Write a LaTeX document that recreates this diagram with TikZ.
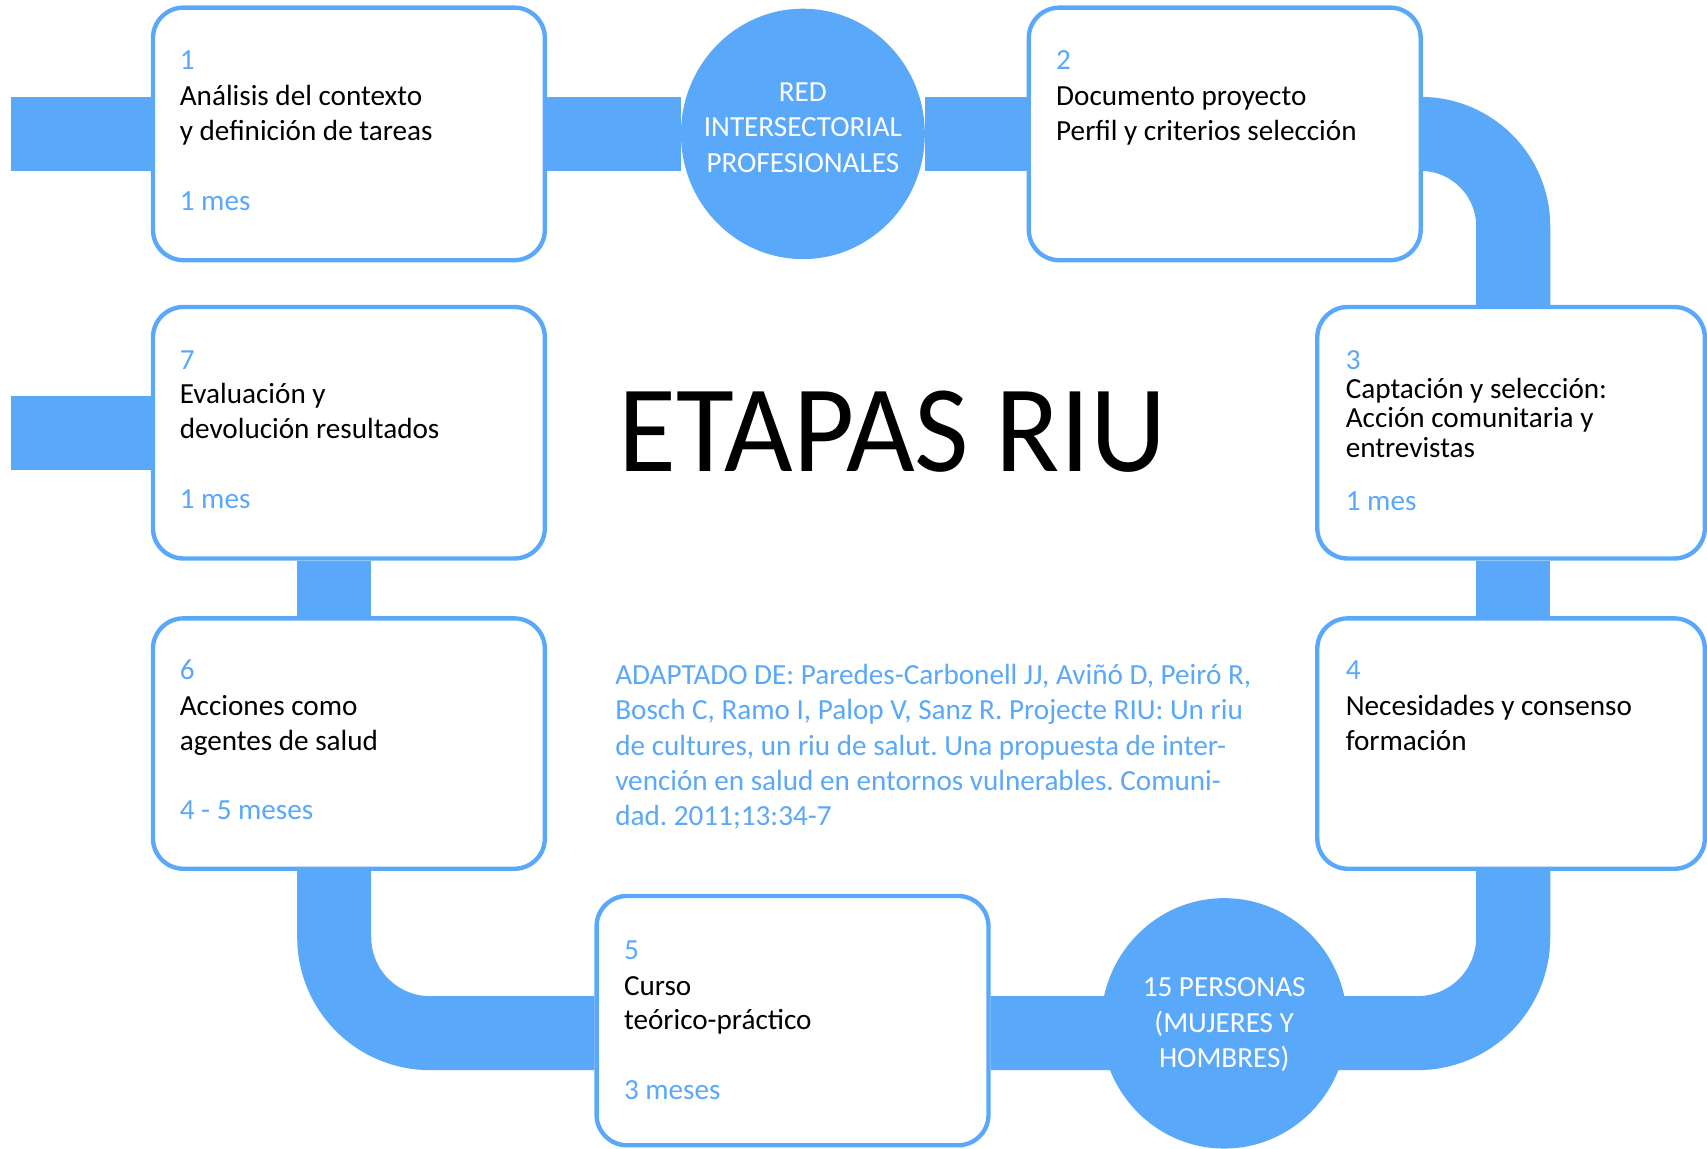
\documentclass[tikz,border=0pt]{standalone}
\usepackage{fontspec}
\setmainfont{Carlito}
\usetikzlibrary{shapes.geometric,backgrounds}
\definecolor{riublue}{RGB}{90,168,250}
\frenchspacing
\begin{document}
\begin{tikzpicture}[x=1pt,y=-1pt,
  band/.style={line width=68pt, draw=riublue},
  stagebox/.style={draw=riublue, line width=4pt, fill=white, rounded corners=28pt,
    minimum width=360pt, minimum height=232pt, inner sep=0pt},
  hub/.style={ellipse, fill=riublue, inner sep=0pt},
  body/.style={anchor=base west, inner sep=0pt, font=\fontsize{26.8pt}{32pt}\selectfont, text=black},
  accent/.style={body, text=riublue},
  hubtext/.style={anchor=base, inner sep=0pt, font=\fontsize{26.8pt}{32pt}\selectfont, text=white},
]
\useasboundingbox (0,0) rectangle (1568,1055);

% stage boxes
\node[stagebox] (b1) at (320.5,123) {};
\node[stagebox] (b2) at (1125,123) {};
\node[stagebox, minimum width=356pt, minimum height=231pt] (b3) at (1388,397.5) {};
\node[stagebox, minimum width=356pt, minimum height=230pt] (b4) at (1388,683) {};
\node[stagebox, minimum height=229pt] (b5) at (728,937.5) {};
\node[stagebox, minimum height=230pt] (b6) at (320.5,683) {};
\node[stagebox, minimum height=231pt] (b7) at (320.5,397.5) {};

% hubs
\node[hub, minimum width=224pt, minimum height=230pt] (c1) at (737.5,123) {};
\node[hub, minimum width=226pt, minimum height=230pt] (c2) at (1124.5,940) {};

% band coordinates
\coordinate (s1) at (10,123);
\coordinate (s7) at (10,397.5);
\coordinate (tr) at (1390,123);
\coordinate (brc) at (1390,949);
\coordinate (blc) at (307,949);

\begin{pgfonlayer}{background}
\fill[white] (0,0) rectangle (1568,1055);
\draw[band] (s1) -- (b1.west);
\draw[band] (b1.east) -- (c1) -- (b2.west);
\draw[band, rounded corners=85pt] (b2.east) -- (tr) -- (b3.north -| tr);
\draw[band] (b3.south -| tr) -- (b4.north -| tr);
\draw[band, rounded corners=88pt] (b4.south -| tr) -- (brc) -- (b5.east |- brc);
\draw[band, rounded corners=88pt] (b5.west |- blc) -- (blc) -- (b6.south -| blc);
\draw[band] (b6.north -| blc) -- (b7.south -| blc);
\draw[band] (s7) -- (b7.west);
\end{pgfonlayer}

% hub texts
\node[hubtext] (c1a) at (737.5,93.5) {RED};
\node[hubtext] (c1b) at (737.5,125.5) {INTERSECTORIAL};
\node[hubtext] (c1c) at (737.5,158) {PROFESIONALES};
\node[hubtext] (c2a) at (1124.5,915.5) {15 PERSONAS};
\node[hubtext] (c2b) at (1124.5,948) {(MUJERES Y};
\node[hubtext] (c2c) at (1124.5,980.5) {HOMBRES)};

% box 1
\node[accent] (t1n) at (165,64) {1};
\node[body] (t1a) at (165,97) {Análisis del contexto};
\node[body] (t1b) at (165,129) {y definición de tareas};
\node[accent] (t1d) at (165,193) {1 mes};
% box 2
\node[accent] (t2n) at (970,64) {2};
\node[body] (t2a) at (970,97) {Documento proyecto};
\node[body] (t2b) at (970,129) {Perfil y criterios selección};
% box 3
\node[accent] (t3n) at (1236,339) {3};
\node[body] (t3a) at (1236,366) {Captación y selección:};
\node[body] (t3b) at (1236,393) {Acción comunitaria y};
\node[body] (t3c) at (1236,420) {entrevistas};
\node[accent] (t3d) at (1236,469) {1 mes};
% box 4
\node[accent] (t4n) at (1236,624) {4};
\node[body] (t4a) at (1236,657) {Necesidades y consenso};
\node[body] (t4b) at (1236,689) {formación};
% box 5
\node[accent] (t5n) at (573,881) {5};
\node[body] (t5a) at (573,914) {Curso};
\node[body] (t5b) at (573,946) {teórico-práctico};
\node[accent] (t5d) at (573,1010) {3 meses};
% box 6
\node[accent] (t6n) at (165,624) {6};
\node[body] (t6a) at (165,657) {Acciones como};
\node[body] (t6b) at (165,689) {agentes de salud};
\node[accent] (t6d) at (165,753) {4 - 5 meses};
% box 7
\node[accent] (t7n) at (165,339) {7};
\node[body] (t7a) at (165,371) {Evaluación y};
\node[body] (t7b) at (165,403) {devolución resultados};
\node[accent] (t7d) at (165,467) {1 mes};

% title
\node[anchor=base west, inner sep=0pt, font=\fontsize{114pt}{120pt}\selectfont] (title) at (568,433.5) {\scalebox{0.955}[1]{ETAPAS RIU}};

% reference
\node[accent] (r1) at (565,629) {ADAPTADO DE: Paredes-Carbonell JJ, Aviñó D, Peiró R,};
\node[accent] (r2) at (565,661) {Bosch C, Ramo I, Palop V, Sanz R. Projecte RIU: Un riu};
\node[accent] (r3) at (565,694) {de cultures, un riu de salut. Una propuesta de inter-};
\node[accent] (r4) at (565,726) {vención en salud en entornos vulnerables. Comuni-};
\node[accent] (r5) at (565,758) {dad. 2011;13:34-7};
\end{tikzpicture}
\end{document}
